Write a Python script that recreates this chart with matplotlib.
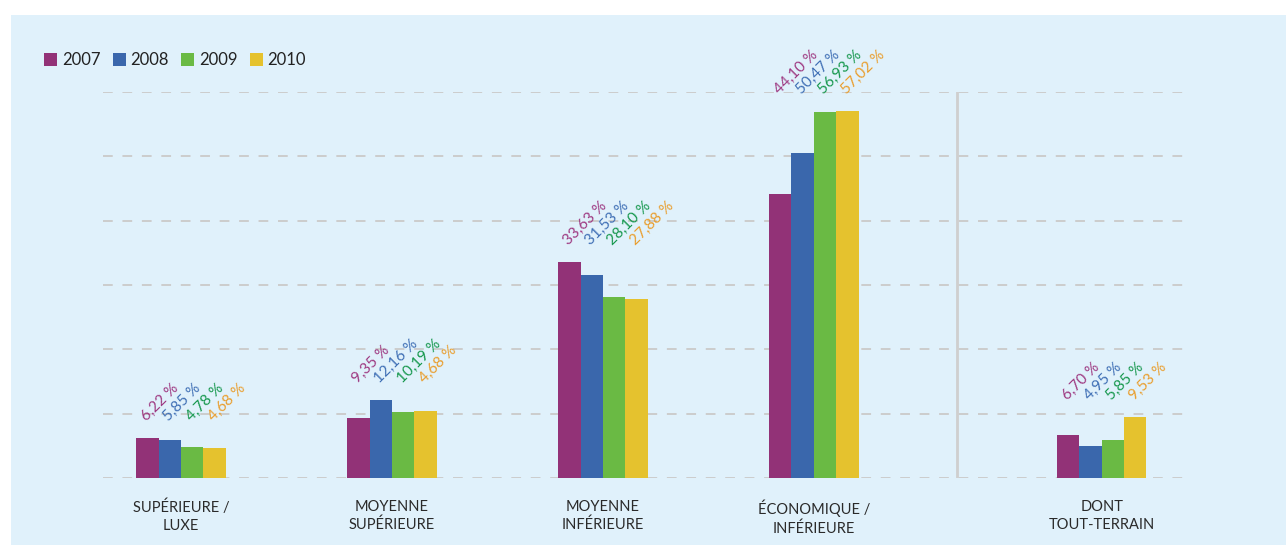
import numpy as np
import matplotlib
matplotlib.use('Agg')
import matplotlib.pyplot as plt
from matplotlib.patches import Rectangle

plt.rcParams['font.family'] = ['Lato', 'DejaVu Sans']

# categories and values (%)
categories = ['SUPÉRIEURE /\nLUXE', 'MOYENNE\nSUPÉRIEURE', 'MOYENNE\nINFÉRIEURE',
              'ÉCONOMIQUE /\nINFÉRIEURE', 'DONT\nTOUT-TERRAIN']
years = ['2007', '2008', '2009', '2010']
v2007 = [6.22, 9.35, 33.63, 44.10, 6.70]
v2008 = [5.85, 12.16, 31.53, 50.47, 4.95]
v2009 = [4.78, 10.19, 28.10, 56.93, 5.85]
v2010 = [4.68, 10.45, 27.88, 57.02, 9.53]
# value labels as printed on the chart
l2007 = ['6,22 %', '9,35 %', '33,63 %', '44,10 %', '6,70 %']
l2008 = ['5,85 %', '12,16 %', '31,53 %', '50,47 %', '4,95 %']
l2009 = ['4,78 %', '10,19 %', '28,10 %', '56,93 %', '5,85 %']
l2010 = ['4,68 %', '4,68 %', '27,88 %', '57,02 %', '9,53 %']

series = [v2007, v2008, v2009, v2010]
labels = [l2007, l2008, l2009, l2010]
bar_colors = ['#923277', '#3a67ac', '#6aba44', '#e5c22e']
text_colors = ['#9e3a82', '#3f6fb5', '#17984e', '#e99e2e']
bg = '#e0f1fb'

xpos = np.array([0, 1, 2, 3, 4.365])
width = 0.106

fig = plt.figure(figsize=(12.86, 5.45), dpi=100)
fig.patch.set_facecolor('white')
fig.patches.append(Rectangle((11 / 1286, 0), 1, 1 - 15 / 545, transform=fig.transFigure,
                             facecolor=bg, edgecolor='none', zorder=-10))

ax = fig.add_axes([103 / 1286, 67 / 545, (1185 - 103) / 1286, (478 - 92) / 545])
ax.set_facecolor('none')
ax.set_xlim(-0.37, 4.76)
ax.set_ylim(0, 60)

for yv in np.arange(0, 61, 10):
    ax.axhline(yv, color='#cccccc', linestyle=(0, (5, 5)), linewidth=1.4, zorder=1)
ax.plot([3.68, 3.68], [0, 60], color='#cfcfcf', linewidth=2, zorder=1)

for i, vals in enumerate(series):
    ax.bar(xpos + (i - 1.5) * width, vals, width=width, color=bar_colors[i], zorder=2,
           label=years[i])

# rotated value labels above each group
for g in range(len(categories)):
    top = max(s[g] for s in series) + 2.2
    for i in range(4):
        ax.text(xpos[g] + (i - 1.5) * width + 0.005, top, labels[i][g], rotation=45,
                rotation_mode='anchor', ha='left', va='bottom', fontsize=11,
                color=text_colors[i], clip_on=False)

for x, c in zip(xpos, categories):
    ax.text(x, -3.4, c, ha='center', va='top', fontsize=10.5, color='#2a2a2a',
            linespacing=1.35)

ax.set_xticks([])
ax.set_yticks([])
for s in ax.spines.values():
    s.set_visible(False)

# legend
lx = 44
for i, yr in enumerate(years):
    fig.patches.append(Rectangle((lx / 1286, 1 - 66 / 545), 13 / 1286, 13 / 545,
                                 transform=fig.transFigure, facecolor=bar_colors[i],
                                 edgecolor='none'))
    fig.text((lx + 18) / 1286, 1 - 60 / 545, yr, fontsize=12, color='#222222',
             va='center', ha='left')
    lx += 68.5

fig.savefig('out.png', dpi=100, facecolor=fig.get_facecolor())
